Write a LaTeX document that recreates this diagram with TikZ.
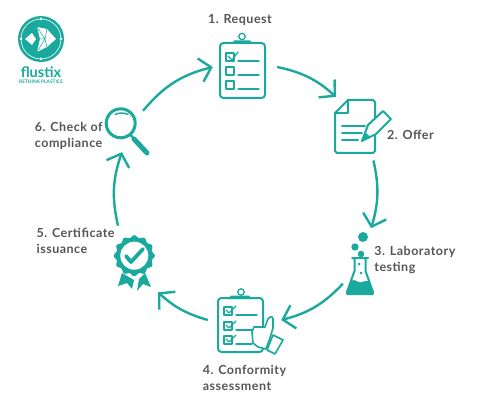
\documentclass[tikz,border=0pt]{standalone}
\usepackage{fontspec}
\setmainfont{Lato}
\newfontfamily\labelfont{Lato}[LetterSpace=4]
\usepackage{xcolor}
\usetikzlibrary{arrows.meta, positioning}

\definecolor{flustixteal}{HTML}{1AA99D}
\definecolor{labelgray}{HTML}{555555}

\begin{document}
\begin{tikzpicture}[
    x=1pt, y=-1pt,
    station/.style={circle, inner sep=0pt, minimum size=#1},
    steptext/.style={inner sep=0pt, align=left, text=labelgray, font=\labelfont\fontsize{12.5}{16}\selectfont\bfseries},
    arrow/.style={-{Straight Barb[length=11pt, width=24pt]}, flustixteal, line width=2.4pt, bend left=#1},
    ink/.style={draw=flustixteal, line width=2pt, line join=round, line cap=round},
    thin ink/.style={draw=flustixteal, line width=1.3pt, line join=round, line cap=round}
]
\useasboundingbox (0,0) rectangle (480,404);

% Nodes
\node[station=64pt] (request) at (245,67) {};
\node[station=73.4pt] (offer) at (355,128.5) {};
\node[station=62pt] (testing) at (357,256) {};
\node[station=73pt] (conformity) at (244.5,320) {};
\node[station=77.2pt] (certificate) at (138,259) {};
\node[station=46pt] (compliance) at (132.5,131.5) {};

% Labels
\node[steptext, above=9pt of request, xshift=-5pt] (requestlabel) {1. Request};
\node[steptext, right=-5pt of offer, yshift=-6pt] (offerlabel) {2. Offer};
\node[steptext, right=-14pt of testing, yshift=-4pt] (testinglabel) {3. Laboratory\\testing};
\node[steptext, below=8pt of conformity] (conformitylabel) {4. Conformity\\assessment};
\node[steptext, left=-15.6pt of certificate, yshift=18pt] (certificatelabel) {5. Certificate\\issuance};
\node[steptext, left=6.5pt of compliance, yshift=-4.5pt] (compliancelabel) {6. Check of\\compliance};

% Arrows
\draw[arrow=15] (request.east) to (offer.121);
\draw[arrow=14.5] (offer.-60) to (testing.63);
\draw[arrow=16] (testing.-117) to (conformity.east);
\draw[arrow=13] (conformity.west) to (certificate.-59);
\draw[arrow=16] (certificate.121) to (compliance.-117);
\draw[arrow=18] (compliance.63) to (request.west);

% Logo
\fill[flustixteal] (41,39) circle (23);
\draw[white, line width=0.6pt] (41,39) circle (20);
\foreach \dotx/\doty in {41/19, 21/39, 61/39, 41/59}
    \fill[white] (\dotx,\doty) circle (1.5);
\fill[white] (25,39) -- (32,33) -- (36,39) -- (32,45) -- cycle;
\fill[white] (37,27) -- (47,29) -- (56,39) -- (47,47) -- (37,52) -- (40,39) -- cycle;
\draw[flustixteal, line width=0.5pt] (37,27) -- (45,39) -- (37,52) (45,39) -- (47,29) (45,39) -- (47,47) (40,39) -- (45,39);
\node[inner sep=0pt, text=flustixteal, font=\fontsize{14.5}{16}\selectfont\bfseries] (logoname) at (41,72) {flustix};
\node[inner sep=0pt, text=flustixteal, font=\fontsize{4.8}{5}\selectfont\bfseries, below=2.5pt of logoname] (logotag) {RETHINK PLASTICS};

% 1. Request
\draw[ink, rounded corners=3.5pt] (220,43) rectangle (265,98);
\draw[thin ink, fill=white] (242,36.5) circle (3.2);
\fill[flustixteal] (232,44) -- (234,40.5) -- (250,40.5) -- (253,44) -- cycle;
\foreach \rowy in {53,67,81} {
    \draw[thin ink] (226,\rowy) rectangle ++(8,8);
    \draw[thin ink] (238,\rowy+8) -- (259,\rowy+8);
}
\draw[thin ink] (228,56) -- (232,60) -- (238,52);

% 2. Offer
\draw[ink] (348,100) -- (373,100) -- (375,102) -- (375,151) -- (373,153) -- (337,153) -- (335,151) -- (335,113) -- cycle;
\draw[ink] (348,100) -- (348,113) -- (335,113);
\draw[ink] (342,126) -- (365,126) (342,133) -- (362,133) (342,140) -- (358,140);
\draw[ink, fill=white] (362,141) -- (368,125) -- (383,111) -- (391,119) -- (376,134) -- cycle;
\fill[flustixteal] (362,141) -- (365,132) -- (370,137) -- cycle;

% 3. Laboratory testing
\fill[flustixteal] (363,237) circle (5) (355,247) circle (3.7) (361,254) circle (3.3);
\draw[ink] (352,258) -- (368,258) (354.5,258) -- (354.5,271) -- (347,292) (365.5,258) -- (365.5,271) -- (373,292);
\fill[flustixteal, rounded corners=1.5pt] (351,281) .. controls (355,279) and (358,283) .. (362,282) .. controls (365,281) and (367,281) .. (369,281) -- (374.5,295) -- (345.5,295) -- cycle;
\fill[flustixteal] (359,264) circle (1.5) (361,273) circle (1.5);

% 4. Conformity assessment
\draw[ink, rounded corners=3.5pt] (218,298) rectangle (263,352);
\draw[thin ink, fill=white] (241,292) circle (3.2);
\fill[flustixteal] (228,299) -- (231,295.5) -- (249,295.5) -- (252,299) -- cycle;
\foreach \rowy/\lineend in {307/257, 322/252, 336/252} {
    \draw[thin ink] (224,\rowy) rectangle ++(8,8);
    \draw[thin ink] (236,\rowy+8) -- (\lineend,\rowy+8);
    \draw[thin ink] (226,\rowy+3) -- (229,\rowy+6) -- (236,\rowy-1);
}
\draw[ink, line width=1.6pt, fill=white] (254,327) -- (265,327) -- (268,319) .. controls (270,316) and (273,316) .. (273,319) -- (273,328) -- (270,338) -- (266,349) -- (258,347) -- (253,343) -- (252,332) -- cycle;
\draw[ink, line width=1.6pt, fill=white] (273,335) -- (283,340) -- (275,354) -- (267,350) -- cycle;

% 5. Certificate issuance
\fill[flustixteal] plot[domain=0:360, samples=121] ({134.3+(19.3+1.2*cos(12*\x))*cos(\x)},{255.7+(19.3+1.2*cos(12*\x))*sin(\x)}) -- cycle;
\fill[white] (134.3,255.7) circle (14);
\draw[flustixteal, line width=3.8pt, line join=round, line cap=round] (126,256) -- (131,262) -- (143,249);
\fill[flustixteal] (122,273) -- (134,280) -- (132,289) -- (127,283) -- (118,286) -- cycle;
\fill[flustixteal] (139,279) -- (145,273) -- (151,287) -- (143,284) -- (137,291) -- cycle;

% 6. Check of compliance
\draw[flustixteal, line width=3pt] (120.7,123.3) circle (14.5);
\draw[flustixteal, line width=1.4pt, line cap=round] (115,114.5) .. controls (119,112.5) and (124,112.5) .. (128,114.5);
\draw[flustixteal, line width=2.4pt, line cap=round] (130,134) -- (134,139);
\draw[flustixteal, line width=5pt, line cap=round] (134,139) -- (147,153);

\end{tikzpicture}
\end{document}
